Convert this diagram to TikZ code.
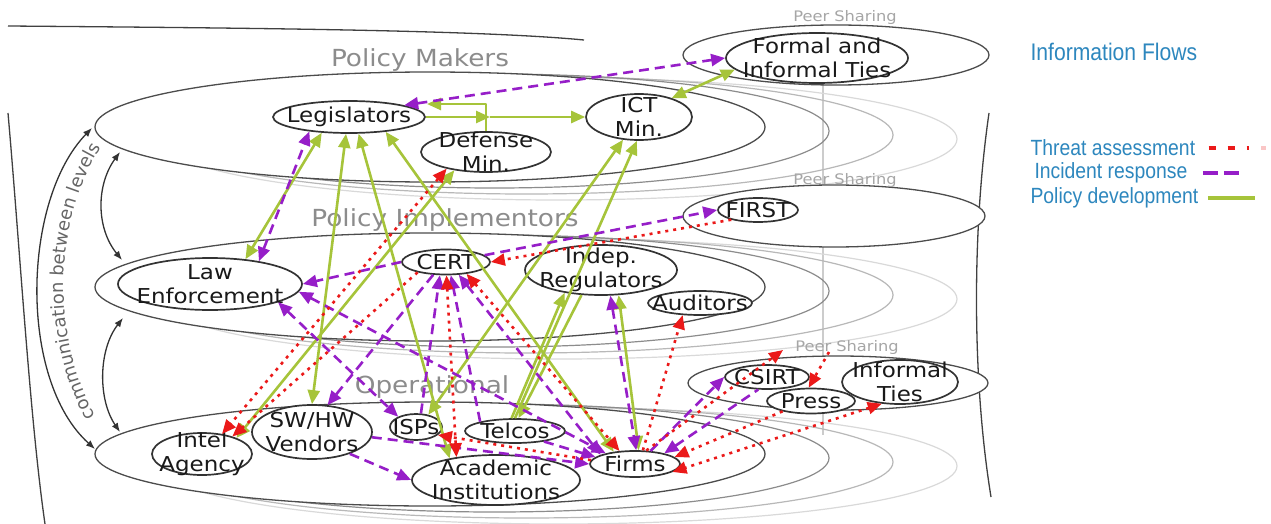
\documentclass[tikz,border=0pt]{standalone}
\usepackage{fontspec}
\setmainfont{DejaVu Sans}
\newfontfamily\entfont[FakeStretch=1.12]{DejaVu Sans}
\newfontfamily\legfont[FakeStretch=0.88]{Liberation Sans}
\usepackage{xcolor}
\usepackage{tikz}
\usetikzlibrary{arrows.meta,shapes.geometric,decorations.text,positioning}
\definecolor{polgreen}{RGB}{166,196,58}
\definecolor{incpurple}{RGB}{150,30,200}
\definecolor{thrred}{RGB}{235,25,25}
\definecolor{legblue}{RGB}{45,135,190}
\newcommand{\sidesize}{\fontsize{18}{20}\selectfont}
\tikzset{
  layer/.style={ellipse,draw=black!70,line width=1.3pt,fill=white,inner sep=0pt},
  peer/.style={ellipse,draw=black!70,line width=1.3pt,fill=white,inner sep=0pt},
  ent/.style={ellipse,draw=black!80,line width=1.7pt,fill=white,inner sep=0pt},
  lbl/.style={align=center,inner sep=0pt,text=black!90,font=\entfont\fontsize{20.5}{24}\selectfont},
  lvl/.style={text=black!45,font=\entfont\fontsize{23.5}{26}\selectfont},
  peerlbl/.style={text=black!35,font=\entfont\fontsize{14.5}{16}\selectfont},
  comm/.style={draw=black!80,line width=1.3pt,{Latex[length=9pt,width=7pt]}-{Latex[length=9pt,width=7pt]}},
  pol/.style={draw=polgreen,line width=2.6pt},
  inc/.style={draw=incpurple,line width=2.6pt,dash pattern=on 10pt off 6pt},
  thr/.style={draw=thrred,line width=2.6pt,dash pattern=on 3pt off 5pt},
  leghead/.style={text=legblue,font=\legfont\fontsize{24}{26}\selectfont},
  legtxt/.style={text=legblue,font=\legfont\fontsize{22}{24}\selectfont}
}
\begin{document}
\begin{tikzpicture}[x=1pt,y=-1pt,line join=round,>={Triangle[length=14pt,width=12pt]}]
\useasboundingbox (0,0) rectangle (1271,524);
\fill[white] (0,0) rectangle (1271,524);

% outer frame
\draw[black!75,line width=1.3pt] (8,26) .. controls (250,28) and (480,30) .. (584,40);
\draw[black!75,line width=1.3pt] (8,113) .. controls (20,250) and (30,420) .. (45,524);
\draw[black!75,line width=1.3pt] (989,113) .. controls (972,230) and (972,380) .. (991,497);
\draw[black!20,line width=1.2pt] (823,85) -- (823,435);

% stacked levels behind
\foreach \cy/\ry in {127/55,287/54,454/52}
  \foreach \k/\c in {3/black!15,2/black!28,1/black!45}
    \draw[\c,line width=1.2pt] ({462.5+32*\k},{\cy+4*\k}) ellipse [x radius={302.5+32*\k},y radius={\ry+2*\k}];

\node[layer,minimum width=670pt,minimum height=110pt] (pm) at (430,127) {};
\node[layer,minimum width=670pt,minimum height=108pt] (pi) at (430,287) {};
\node[layer,minimum width=670pt,minimum height=104pt] (op) at (430,454) {};

\node[peer,minimum width=306pt,minimum height=60pt] (ps1) at (836,55) {};
\node[peer,minimum width=302pt,minimum height=62pt] (ps2) at (834,216) {};
\node[peer,minimum width=300pt,minimum height=54pt] (ps3) at (838,383) {};

\node[lvl] at (420,60) {Policy Makers};
\node[lvl] at (445,220) {Policy Implementors};
\node[lvl] at (432,387) {Operational};
\node[peerlbl] at (845,18) {Peer Sharing};
\node[peerlbl] at (845,180) {Peer Sharing};
\node[peerlbl] at (847,347) {Peer Sharing};

% communication between levels
\coordinate (ca) at (92,128);
\coordinate (cb) at (95,449);
\coordinate (cc) at (120,152);
\coordinate (cd) at (122,260);
\coordinate (ce) at (123,318);
\coordinate (cf) at (120,432);
\draw[comm] (ca) .. controls (22,200) and (18,380) .. (cb);
\draw[comm] (cc) .. controls (96,185) and (96,228) .. (cd);
\draw[comm] (ce) .. controls (98,350) and (98,400) .. (cf);
\path[decorate,decoration={text along path,text align=center,text color=black!60,
  text={|\sidesize|communication between levels}}]
  (96,418) .. controls (54,340) and (50,230) .. (102,146);

% actors
\node[ent,minimum width=152pt,minimum height=32pt,label={[lbl]center:Legislators}] (leg) at (349,117) {};
\node[ent,minimum width=130pt,minimum height=40pt,label={[lbl]center:{Defense\\Min.}}] (def) at (486,152) {};
\node[ent,minimum width=106pt,minimum height=46pt,label={[lbl]center:{ICT\\Min.}}] (ict) at (639,117) {};
\node[ent,minimum width=182pt,minimum height=50pt,label={[lbl]center:{Formal and\\Informal Ties}}] (fit) at (817,58) {};
\node[ent,minimum width=80pt,minimum height=24pt,label={[lbl]center:FIRST}] (first) at (758,210) {};
\node[ent,minimum width=88pt,minimum height=25pt,label={[lbl]center:CERT}] (cert) at (446,262) {};
\node[ent,minimum width=152pt,minimum height=50pt,label={[lbl]center:{Indep.\\Regulators}}] (reg) at (601,270) {};
\node[ent,minimum width=104pt,minimum height=24pt,label={[lbl]center:Auditors}] (aud) at (700,303) {};
\node[ent,minimum width=184pt,minimum height=52pt,label={[lbl]center:{Law\\Enforcement}}] (law) at (210,284) {};
\node[ent,minimum width=84pt,minimum height=24pt,label={[lbl]center:CSIRT}] (csirt) at (767,377) {};
\node[ent,minimum width=116pt,minimum height=44pt,label={[lbl]center:{Informal\\Ties}}] (iti) at (900,382) {};
\node[ent,minimum width=88pt,minimum height=25pt,label={[lbl]center:Press}] (press) at (811,401) {};
\node[ent,minimum width=100pt,minimum height=42pt,label={[lbl]center:{Intel\\Agency}}] (intel) at (202,454) {};
\node[ent,minimum width=120pt,minimum height=54pt,label={[lbl]center:{SW/HW\\Vendors}}] (swhw) at (312,432) {};
\node[ent,minimum width=52pt,minimum height=26pt,label={[lbl]center:ISPs}] (isp) at (416,427) {};
\node[ent,minimum width=100pt,minimum height=24pt,label={[lbl]center:Telcos}] (telco) at (515,431) {};
\node[ent,minimum width=168pt,minimum height=50pt,label={[lbl]center:{Academic\\Institutions}}] (acad) at (496,480) {};
\node[ent,minimum width=90pt,minimum height=26pt,label={[lbl]center:Firms}] (firms) at (635,464) {};

% policy development
\coordinate (dj) at (490,117);
\coordinate (lb) at (427,104);
\draw[pol,->] (leg.east) -- (dj);
\draw[pol,->] (dj) -- (ict.west);
\draw[pol,->] (def.north) |- (lb);
\draw[pol,<->] (ict.30) -- (fit.-172);
\draw[pol,<->] (law.35) -- (leg.-150);
\draw[pol,<->] (swhw.north) -- (leg.-100);
\draw[pol,<->] (acad.155) -- (leg.-60);
\draw[pol,<->] (firms.150) -- (leg.-22);
\draw[pol,<->] (intel.25) -- (def.-150);
\draw[pol,<->] (isp.45) -- (ict.-125);
\draw[pol,->] (telco.north) -- (ict.-95);
\draw[pol,->] (telco.105) -- (reg.-148);
\draw[pol,->] (reg.-128) -- (telco.75);
\draw[pol,<->] (reg.-55) -- (firms.75);

% incident response
\draw[inc,<->] (leg.12) -- (fit.west);
\draw[inc,->] (cert.10) -- (first.west);
\draw[inc,->] (cert.west) -- (law.east);
\draw[inc,<->] (law.25) -- (leg.-160);
\draw[inc,<->] (law.-15) -- (isp.150);
\draw[inc,<->] (law.-5) -- (firms.160);
\draw[inc,->] (cert.-135) -- (swhw.60);
\draw[inc,->] (isp.70) -- (cert.-115);
\draw[inc,->] (telco.165) -- (cert.-70);
\draw[inc,<->] (cert.-45) -- (firms.165);
\draw[inc,->] (swhw.-30) -- (acad.west);
\draw[inc,->] (swhw.-5) -- (firms.west);
\draw[inc,->] (telco.-20) -- (firms.170);
\draw[inc,<->] (reg.-70) -- (firms.85);
\draw[inc,->] (firms.40) -- (csirt.west);
\draw[inc,<-] (firms.20) -- (csirt.-125);

% threat assessment
\coordinate (pa) at (783,350);
\coordinate (pb) at (829,352);
\draw[thr,<->] (def.-157) -- (intel.45);
\draw[thr,->] (cert.-160) -- (intel.30);
\draw[thr,->] (first.-160) -- (cert.east);
\draw[thr,<->] (cert.-88) -- (acad.150);
\draw[thr,<->] (cert.-30) -- (firms.140);
\draw[thr,->] (firms.60) -- (aud.-145);
\draw[thr,->] (firms.50) -- (pa);
\draw[thr,->] (pb) -- (press.100);
\draw[thr,->] (press.200) -- (firms.10);
\draw[thr,<->] (iti.-130) -- (firms.-12);
\draw[thr,->] (firms.175) -- (isp.-20);

% legend
\node[leghead,anchor=west] (flows) at (1027,52) {Information Flows};
\node[legtxt,anchor=west] (thrt) at (1027,148) {Threat assessment};
\node[legtxt,anchor=west] (inct) at (1031,173) {Incident response};
\node[legtxt,anchor=west] (polt) at (1027,198) {Policy development};
\draw[thrred,line width=3.5pt,dash pattern=on 7pt off 12pt] ([xshift=10pt]thrt.east) -- ++(40,0);
\fill[thrred!25] (1261,146) rectangle (1266,150);
\draw[incpurple,line width=3.5pt,dash pattern=on 15pt off 6pt] ([xshift=12pt]inct.east) -- ++(40,0);
\draw[polgreen,line width=3.5pt] ([xshift=6pt]polt.east) -- ++(47,0);
\end{tikzpicture}
\end{document}
